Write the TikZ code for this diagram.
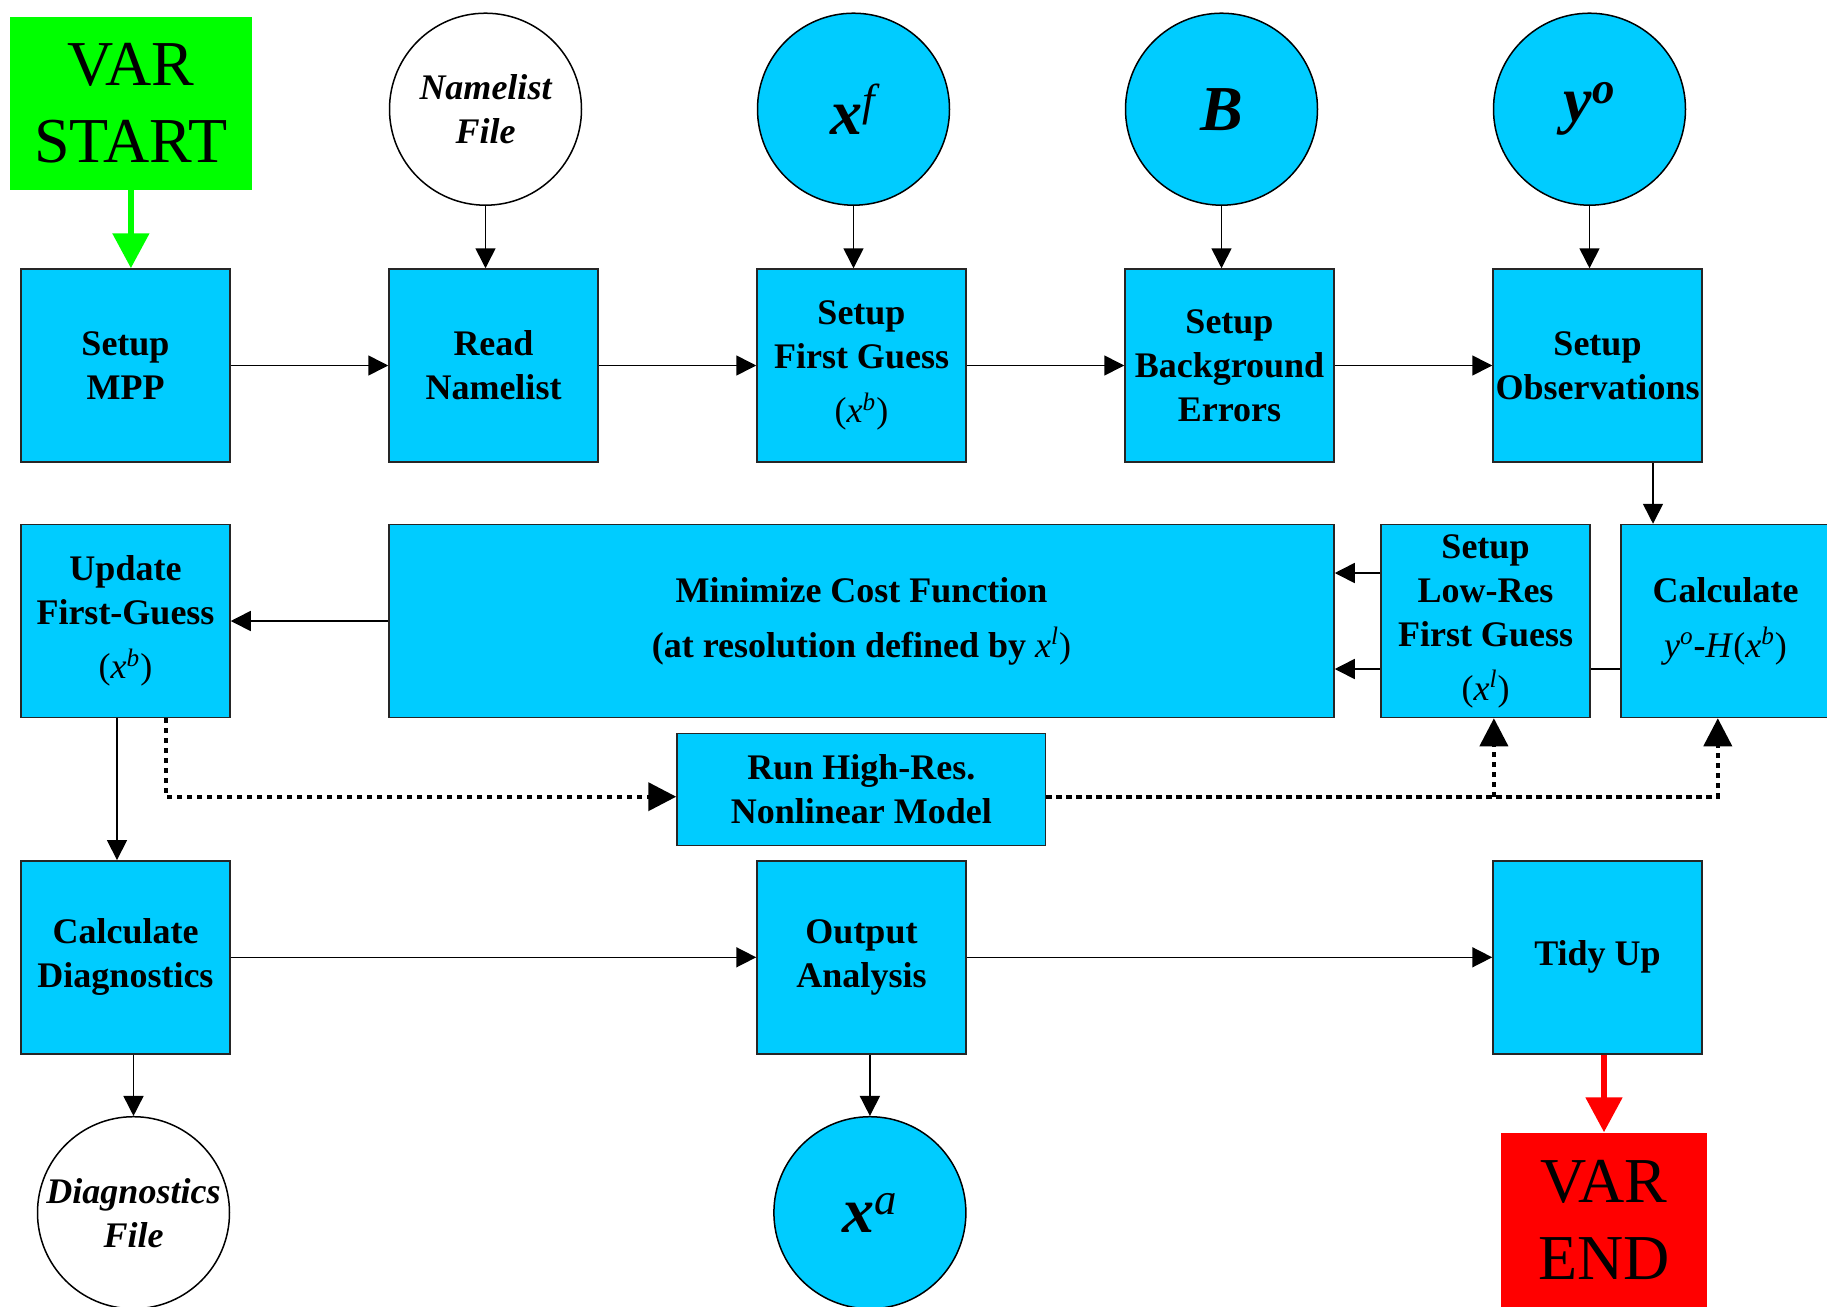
\documentclass[tikz,border=0pt]{standalone}
\usepackage{fontspec}
\setmainfont{Liberation Serif}
\usetikzlibrary{arrows.meta,calc}
\definecolor{boxblue}{HTML}{00CCFF}
\definecolor{vgreen}{HTML}{00FF00}
\definecolor{vred}{HTML}{FF0000}
\newcommand{\supv}[2]{\textit{#1}\textsuperscript{\textit{#2}}}
\begin{document}
\begin{tikzpicture}[x=0.5pt,y=-0.5pt,
  box/.style={rectangle, draw=black!85, line width=0.75pt, fill=boxblue,
    minimum width=104.5pt, minimum height=96.5pt, inner sep=0pt, align=center,
    font=\fontsize{18}{22}\selectfont\bfseries},
  filecirc/.style={circle, draw=black, line width=0.75pt, fill=white,
    minimum size=96pt, inner sep=-2pt, align=center,
    font=\fontsize{18}{22}\selectfont\bfseries\itshape},
  datacirc/.style={circle, draw=black, line width=0.75pt, fill=boxblue,
    minimum size=96pt, inner sep=0pt, align=center,
    font=\fontsize{32}{38}\selectfont\bfseries\itshape},
  termbox/.style={rectangle, draw=none, inner sep=0pt, align=center,
    font=\fontsize{32}{38.3}\selectfont},
  arr/.style={line width=0.8pt, draw=black, -{Triangle[length=10pt,width=10pt]}},
  plainline/.style={line width=0.8pt, draw=black},
  dotarr/.style={line width=2pt, draw=black, dash pattern=on 2.6pt off 2.4pt,
    -{Triangle[length=14pt,width=14pt]}},
  garrow/.style={line width=3.2pt, draw=vgreen, -{Triangle[length=17.5pt,width=17.8pt]}},
  rarrow/.style={line width=3.2pt, draw=vred, -{Triangle[length=17.5pt,width=17.8pt]}}
]
\useasboundingbox (0,0) rectangle (1827,1307);
\fill[white] (0,0) rectangle (1827,1307);

% terminals
\node[termbox, fill=vgreen, minimum width=121pt, minimum height=86.7pt] (start) at (130.9,103.3) {VAR\\START};
\node[termbox, fill=vred, minimum width=103pt, minimum height=87pt] (end) at (1604,1219.7) {VAR\\END};

% top row
\node[box] (mpp) at (125.5,365.5) {Setup\\MPP};
\node[box] (read) at (493.5,365.5) {Read\\Namelist};
\node[box] (sfg) at (861.5,365.5) {Setup\\First Guess\\[5pt]{\mdseries(\supv{x}{b})}};
\node[box] (sbe) at (1229.5,365.5) {Setup\\Background\\Errors};
\node[box] (sobs) at (1597.5,365.5) {Setup\\Observations};

% input circles
\node[filecirc] (nl) at (485.5,109.2) {Namelist\\File};
\node[datacirc] (xf) at (853.5,109.2) {x\textsuperscript{\mdseries f}};
\node[datacirc] (bb) at (1221.5,109.2) {B};
\node[datacirc] (yo) at (1589.5,109.2) {y\textsuperscript{o}};

% second row
\node[box] (upd) at (125.5,621) {Update\\First-Guess\\[5pt]{\mdseries(\supv{x}{b})}};
\node[box, minimum width=472.5pt] (mini) at (861.5,621) {Minimize Cost Function\\[5.5pt](at resolution defined by {\mdseries\supv{x}{l})}};
\node[box] (lowres) at (1485.5,621) {Setup\\Low-Res\\First Guess\\[5pt]{\mdseries(\supv{x}{l})}};
\node[box] (calc) at (1725.5,621) {Calculate\\[5.5pt]{\mdseries\supv{y}{o}\textbf{-}\textit{H}(\supv{x}{b})}};
\node[box, minimum width=184.3pt, minimum height=56.2pt] (runhr) at (861.3,789.5) {Run High-Res.\\Nonlinear Model};

% third row
\node[box] (cdiag) at (125.5,957.3) {Calculate\\Diagnostics};
\node[box] (outp) at (861.5,957.3) {Output\\Analysis};
\node[box] (tidy) at (1597.5,957.3) {Tidy Up};

% outputs
\node[filecirc] (dfile) at (133.5,1212.7) {Diagnostics\\File};
\node[datacirc] (xa) at (869.9,1212.7) {x\textsuperscript{\mdseries a}};

% connectors
\draw[garrow] (start.south) -- (start.south |- mpp.north);
\draw[arr] (mpp.east) -- (read.west);
\draw[arr] (read.east) -- (sfg.west);
\draw[arr] (sfg.east) -- (sbe.west);
\draw[arr] (sbe.east) -- (sobs.west);
\draw[arr] (nl.south) -- (nl.south |- read.north);
\draw[arr] (xf.south) -- (xf.south |- sfg.north);
\draw[arr] (bb.south) -- (bb.south |- sbe.north);
\draw[arr] (yo.south) -- (yo.south |- sobs.north);

\coordinate (o1) at ($(sobs.south)+(55.5,0)$);
\draw[arr] (o1) -- (o1 |- calc.north);

\coordinate (lr1) at ($(lowres.west)+(0,-48)$);
\coordinate (lr2) at ($(lowres.west)+(0,48)$);
\draw[arr] (lr1) -- (lr1 -| mini.east);
\draw[arr] (lr2) -- (lr2 -| mini.east);
\draw[plainline] (calc.west |- lr2) -- (lowres.east |- lr2);
\draw[arr] (mini.west) -- (upd.east);

\coordinate (u1) at ($(upd.south)+(-8.5,0)$);
\draw[arr] (u1) -- (u1 |- cdiag.north);

\coordinate (u2) at ($(upd.south)+(40,0)$);
\coordinate (dl) at ($(runhr.west)+(0,7.2)$);
\draw[dotarr] (u2) |- (dl);
\coordinate (dr) at ($(runhr.east)+(0,7.2)$);
\coordinate (c1) at ($(calc.south)+(-7.7,0)$);
\draw[dotarr] (dr) -| (c1);
\coordinate (l1) at ($(lowres.south)+(8.4,0)$);
\draw[dotarr] (l1 |- dr) -- (l1);

\draw[arr] (cdiag.east) -- (outp.west);
\draw[arr] (outp.east) -- (tidy.west);
\draw[arr] (dfile.north |- cdiag.south) -- (dfile.north);
\draw[arr] (xa.north |- outp.south) -- (xa.north);
\draw[rarrow] (end.north |- tidy.south) -- (end.north);
\end{tikzpicture}
\end{document}
